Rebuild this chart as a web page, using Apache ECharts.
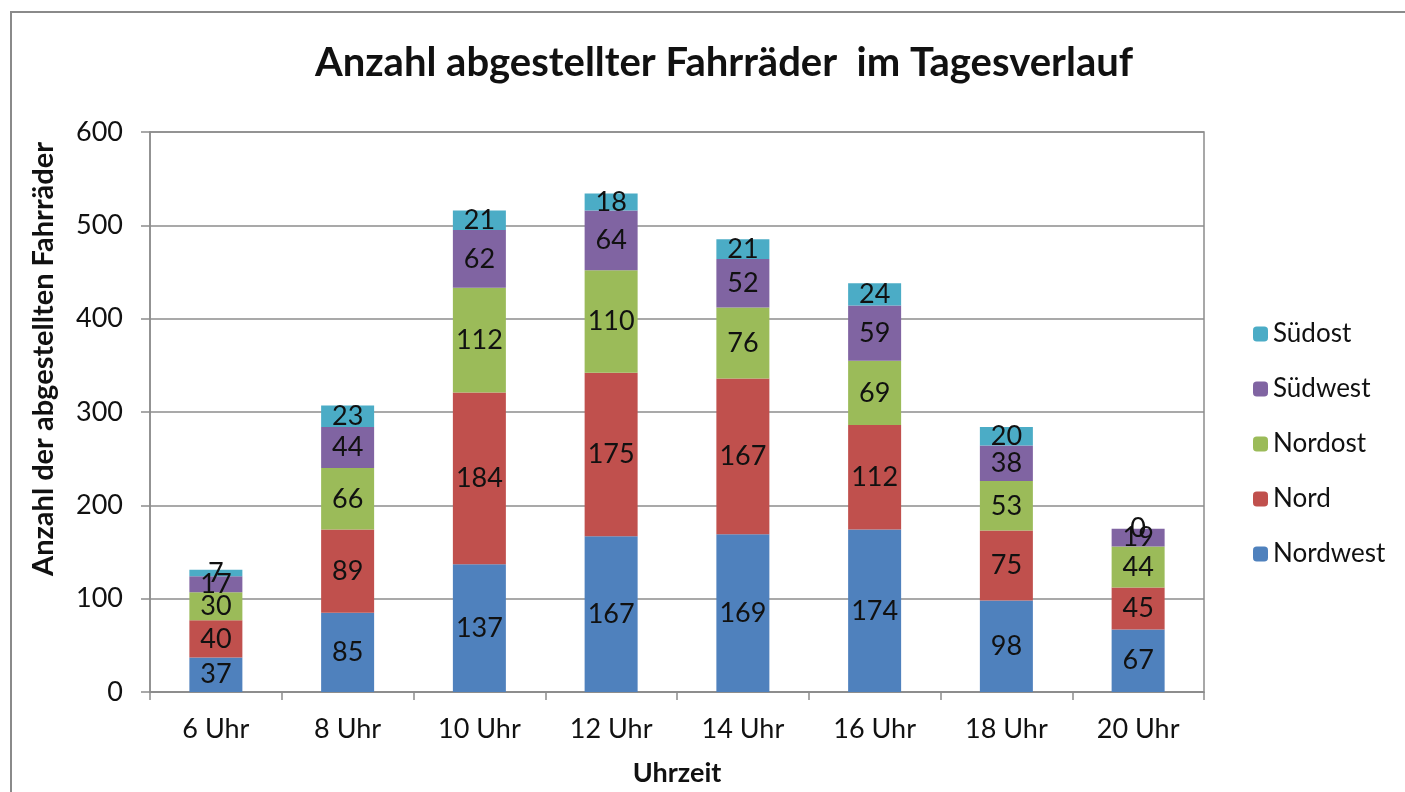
<!DOCTYPE html>
<html>
<head>
<meta charset="utf-8">
<script src="https://cdn.jsdelivr.net/npm/echarts@6/dist/echarts.min.js"></script>
<style>
  html, body { margin: 0; padding: 0; background: #fff; }
  #chartContainer { width: 1405px; height: 792px; }
</style>
</head>
<body>
<div id="chartContainer"></div>
<script>
const hours = ['6 Uhr', '8 Uhr', '10 Uhr', '12 Uhr', '14 Uhr', '16 Uhr', '18 Uhr', '20 Uhr'];
const nordwest = [37, 85, 137, 167, 169, 174, 98, 67];
const nord = [40, 89, 184, 175, 167, 112, 75, 45];
const nordost = [30, 66, 112, 110, 76, 69, 53, 44];
const suedwest = [17, 44, 62, 64, 52, 59, 38, 19];
const suedost = [7, 23, 21, 18, 21, 24, 20, 0];
const legendOrder = ['Südost', 'Südwest', 'Nordost', 'Nord', 'Nordwest'];

const font = 'Lato';
const gridColor = '#8c8c8c';

function barSeries(name, data, color) {
    return {
        name: name,
        type: 'bar',
        stack: 'total',
        barWidth: 53,
        data: data,
        itemStyle: { color: color },
        label: {
            show: true,
            position: 'inside',
            color: '#111',
            fontFamily: font,
            fontSize: 27
        },
        emphasis: { disabled: true }
    };
}

const chart = echarts.init(document.getElementById('chartContainer'), null, {renderer: 'canvas'});
const option = {
    animation: false,
    backgroundColor: '#fff',
    title: {
        text: 'Anzahl abgestellter Fahrräder  im Tagesverlauf',
        left: 719,
        top: 38,
        textAlign: 'center',
        textStyle: { fontFamily: font, fontWeight: 'bold', fontSize: 40, color: '#111' }
    },
    graphic: [
        {
            type: 'rect',
            shape: { x: 11, y: 12, width: 1420, height: 800 },
            style: { fill: 'none', stroke: '#8a8a8a', lineWidth: 2 },
            silent: true
        },
        {
            // y axis title sits higher than the plot middle in the original
            type: 'text',
            x: 44,
            y: 359,
            rotation: Math.PI / 2,
            style: {
                text: 'Anzahl der abgestellten Fahrräder',
                fontFamily: font,
                fontWeight: 'bold',
                fontSize: 29,
                fill: '#111',
                align: 'center',
                verticalAlign: 'middle'
            },
            silent: true
        }
    ],
    legend: {
        orient: 'vertical',
        left: 1248,
        top: 316,
        itemWidth: 15,
        itemHeight: 15,
        itemGap: 29,
        data: legendOrder,
        textStyle: { fontFamily: font, fontSize: 26, color: '#111' }
    },
    grid: {
        left: 150,
        right: 201,
        top: 132,
        bottom: 100,
        outerBoundsMode: 'none',
        show: true,
        borderColor: gridColor,
        borderWidth: 1.5
    },
    xAxis: {
        type: 'category',
        data: hours,
        name: 'Uhrzeit',
        nameLocation: 'middle',
        nameGap: 68,
        nameTextStyle: { fontFamily: font, fontWeight: 'bold', fontSize: 27, color: '#111' },
        axisLine: { lineStyle: { color: gridColor, width: 1.5 } },
        axisTick: { show: true, length: 8, lineStyle: { color: gridColor, width: 1.5 } },
        axisLabel: { fontFamily: font, fontSize: 27, color: '#111', margin: 24 }
    },
    yAxis: {
        type: 'value',
        min: 0,
        max: 600,
        interval: 100,
        axisLine: { show: true, lineStyle: { color: gridColor, width: 1.5 } },
        axisTick: { show: true, length: 9, lineStyle: { color: gridColor, width: 1.5 } },
        axisLabel: { fontFamily: font, fontSize: 27, color: '#111', margin: 27 },
        splitLine: { lineStyle: { color: gridColor, width: 1.5 } }
    },
    series: [
        barSeries('Nordwest', nordwest, '#4f81bd'),
        barSeries('Nord', nord, '#c0504d'),
        barSeries('Nordost', nordost, '#9bbb59'),
        barSeries('Südwest', suedwest, '#8064a2'),
        barSeries('Südost', suedost, '#4bacc6')
    ]
};
chart.setOption(option);
</script>
</body>
</html>
